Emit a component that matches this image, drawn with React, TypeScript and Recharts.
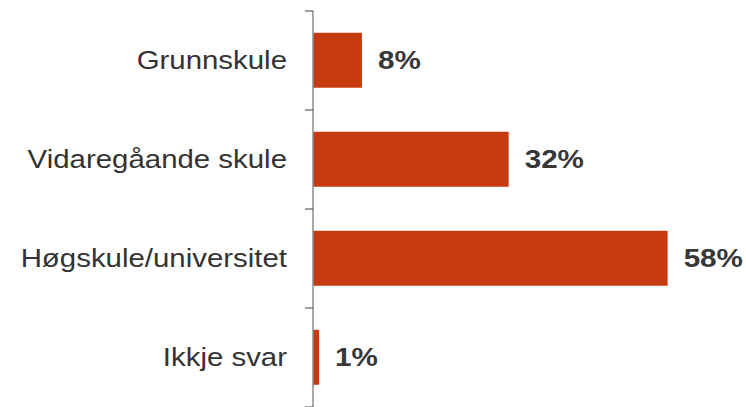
import React from "react";
import { BarChart, Bar, XAxis, YAxis, LabelList } from "recharts";

const categories = ["Grunnskule", "Vidaregåande skule", "Høgskule/universitet", "Ikkje svar"];
const values = [8, 32, 58, 1];
const valueLabels = ["8%", "32%", "58%", "1%"];

const data = categories.map((name, i) => ({ name, value: values[i], label: valueLabels[i] }));

const W = 746;
const H = 407;
const MARGIN = { top: 11, right: 5, bottom: 0, left: 0 };
const PLOT_H = H - MARGIN.top - MARGIN.bottom;
const BAND = PLOT_H / categories.length;
const STRETCH = 1.14;
const FONT = "'Liberation Sans', Arial, sans-serif";

const CategoryTick = (props: any) => {
  const { x, y, payload, index } = props;
  const isLast = index === categories.length - 1;
  return (
    <g>
      <line x1={x - 8} x2={x} y1={y - BAND / 2} y2={y - BAND / 2} stroke="#404040" strokeWidth={1} />
      {isLast && (
        <line x1={x - 8} x2={x} y1={y + BAND / 2} y2={y + BAND / 2} stroke="#404040" strokeWidth={1} />
      )}
      <text
        transform={`translate(${x - 26},${y}) scale(${STRETCH},1)`}
        textAnchor="end"
        dominantBaseline="central"
        fontFamily={FONT}
        fontSize={25.8}
        fill="#333333"
      >
        {payload.value}
      </text>
    </g>
  );
};

const ValueLabel = (props: any) => {
  const { x, y, width, height, value } = props;
  return (
    <text
      transform={`translate(${x + width + 16},${y + height / 2}) scale(${STRETCH},1)`}
      textAnchor="start"
      dominantBaseline="central"
      fontFamily={FONT}
      fontWeight="bold"
      fontSize={26}
      fill="#383838"
    >
      {value}
    </text>
  );
};

export default function App() {
  return (
    <div style={{ position: "absolute", left: 0, top: 0, width: W, height: H, background: "#fff" }}>
      <BarChart width={W} height={H} data={data} layout="vertical" margin={MARGIN} barCategoryGap="22%">
        <XAxis type="number" domain={[0, 70]} hide />
        <YAxis
          type="category"
          dataKey="name"
          width={313}
          tickLine={false}
          tickSize={0}
          tickMargin={0}
          axisLine={{ stroke: "#8c8c8c", strokeWidth: 1.5 }}
          tick={<CategoryTick />}
          interval={0}
        />
        <Bar dataKey="value" fill="#C53A0E" isAnimationActive={false}>
          <LabelList dataKey="label" content={<ValueLabel />} />
        </Bar>
      </BarChart>
    </div>
  );
}
